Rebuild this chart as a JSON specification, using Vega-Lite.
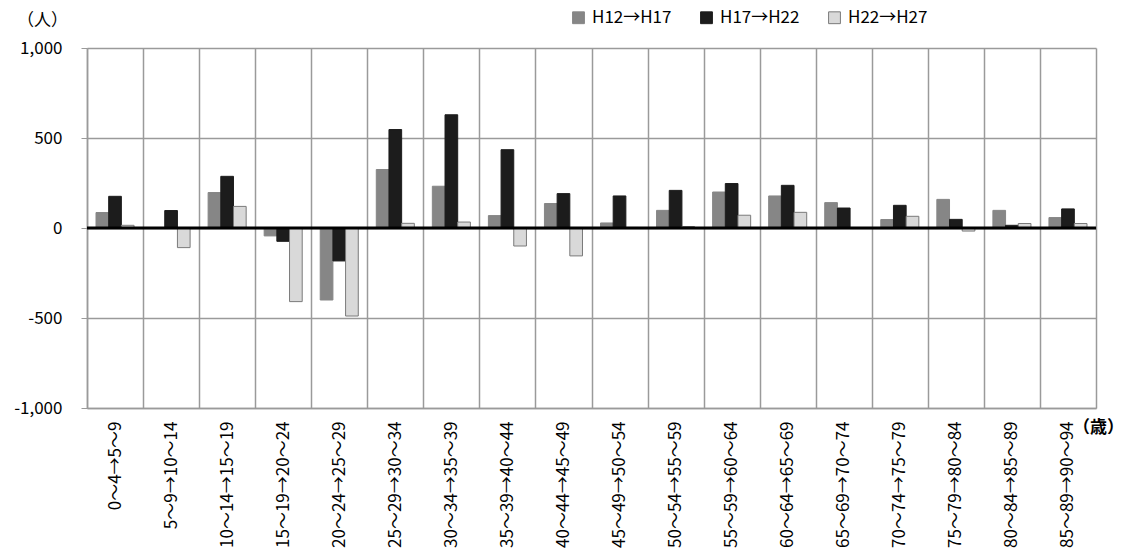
{
  "$schema": "https://vega.github.io/schema/vega-lite/v6.json",
  "autosize": {"type": "none"},
  "padding": {"left": 87, "top": 48, "right": 28, "bottom": 146},
  "width": 1009,
  "height": 360,
  "background": "white",
  "config": {
    "font": "Noto Sans CJK JP",
    "view": {"stroke": null},
    "axis": {"labelColor": "#000", "titleColor": "#000", "labelFontWeight": "normal"}
  },
  "data": {"values": [
    {"age": "0～4→5～9", "period": "H12→H17", "value": 86},
    {"age": "0～4→5～9", "period": "H17→H22", "value": 176},
    {"age": "0～4→5～9", "period": "H22→H27", "value": 15},
    {"age": "5～9→10～14", "period": "H12→H17", "value": 0},
    {"age": "5～9→10～14", "period": "H17→H22", "value": 97},
    {"age": "5～9→10～14", "period": "H22→H27", "value": -109},
    {"age": "10～14→15～19", "period": "H12→H17", "value": 197},
    {"age": "10～14→15～19", "period": "H17→H22", "value": 287},
    {"age": "10～14→15～19", "period": "H22→H27", "value": 120},
    {"age": "15～19→20～24", "period": "H12→H17", "value": -44},
    {"age": "15～19→20～24", "period": "H17→H22", "value": -74},
    {"age": "15～19→20～24", "period": "H22→H27", "value": -409},
    {"age": "20～24→25～29", "period": "H12→H17", "value": -400},
    {"age": "20～24→25～29", "period": "H17→H22", "value": -183},
    {"age": "20～24→25～29", "period": "H22→H27", "value": -489},
    {"age": "25～29→30～34", "period": "H12→H17", "value": 325},
    {"age": "25～29→30～34", "period": "H17→H22", "value": 547},
    {"age": "25～29→30～34", "period": "H22→H27", "value": 26},
    {"age": "30～34→35～39", "period": "H12→H17", "value": 232},
    {"age": "30～34→35～39", "period": "H17→H22", "value": 629},
    {"age": "30～34→35～39", "period": "H22→H27", "value": 33},
    {"age": "35～39→40～44", "period": "H12→H17", "value": 69},
    {"age": "35～39→40～44", "period": "H17→H22", "value": 435},
    {"age": "35～39→40～44", "period": "H22→H27", "value": -100},
    {"age": "40～44→45～49", "period": "H12→H17", "value": 136},
    {"age": "40～44→45～49", "period": "H17→H22", "value": 191},
    {"age": "40～44→45～49", "period": "H22→H27", "value": -155},
    {"age": "45～49→50～54", "period": "H12→H17", "value": 28},
    {"age": "45～49→50～54", "period": "H17→H22", "value": 178},
    {"age": "45～49→50～54", "period": "H22→H27", "value": 3},
    {"age": "50～54→55～59", "period": "H12→H17", "value": 98},
    {"age": "50～54→55～59", "period": "H17→H22", "value": 209},
    {"age": "50～54→55～59", "period": "H22→H27", "value": 8},
    {"age": "55～59→60～64", "period": "H12→H17", "value": 200},
    {"age": "55～59→60～64", "period": "H17→H22", "value": 247},
    {"age": "55～59→60～64", "period": "H22→H27", "value": 71},
    {"age": "60～64→65～69", "period": "H12→H17", "value": 178},
    {"age": "60～64→65～69", "period": "H17→H22", "value": 237},
    {"age": "60～64→65～69", "period": "H22→H27", "value": 87},
    {"age": "65～69→70～74", "period": "H12→H17", "value": 141},
    {"age": "65～69→70～74", "period": "H17→H22", "value": 111},
    {"age": "65～69→70～74", "period": "H22→H27", "value": 0},
    {"age": "70～74→75～79", "period": "H12→H17", "value": 47},
    {"age": "70～74→75～79", "period": "H17→H22", "value": 126},
    {"age": "70～74→75～79", "period": "H22→H27", "value": 65},
    {"age": "75～79→80～84", "period": "H12→H17", "value": 159},
    {"age": "75～79→80～84", "period": "H17→H22", "value": 48},
    {"age": "75～79→80～84", "period": "H22→H27", "value": -17},
    {"age": "80～84→85～89", "period": "H12→H17", "value": 98},
    {"age": "80～84→85～89", "period": "H17→H22", "value": 15},
    {"age": "80～84→85～89", "period": "H22→H27", "value": 25},
    {"age": "85～89→90～94", "period": "H12→H17", "value": 58},
    {"age": "85～89→90～94", "period": "H17→H22", "value": 106},
    {"age": "85～89→90～94", "period": "H22→H27", "value": 25}
  ]},
  "layer": [
    {
      "mark": {"type": "bar", "strokeWidth": 1},
      "encoding": {
        "x": {
          "field": "age", "type": "nominal", "sort": null,
          "scale": {"paddingInner": 0, "paddingOuter": 0},
          "axis": {
            "labelAngle": -90, "labelFontSize": 17, "labelPadding": 13,
            "tickBand": "extent", "grid": true, "gridColor": "#9a9a9a", "gridWidth": 1.5,
            "ticks": false, "domainColor": "#9a9a9a", "domainWidth": 1.5,
            "labelLimit": 300,
            "title": "（歳）", "titleAngle": 0, "titleFontSize": 17, "titleFontWeight": "bold",
            "titleX": 1011, "titleY": 19, "titleAlign": "center", "titleBaseline": "middle"
          }
        },
        "xOffset": {
          "field": "period", "type": "nominal", "sort": ["H12→H17", "H17→H22", "H22→H27"],
          "scale": {"paddingInner": 0, "paddingOuter": 0.71}
        },
        "y": {
          "field": "value", "type": "quantitative",
          "scale": {"domain": [-1000, 1000], "nice": false},
          "axis": {
            "values": [-1000, -500, 0, 500, 1000], "format": ",d",
            "labelExpr": "replace(datum.label, '−', '-')",
            "labelFontSize": 17, "labelPadding": 19,
            "grid": true, "gridColor": "#9a9a9a", "gridWidth": 1.5,
            "tickSize": 6, "tickColor": "#9a9a9a", "domainColor": "#9a9a9a", "domainWidth": 1.5,
            "title": "（人）", "titleAngle": 0, "titleFontSize": 17, "titleFontWeight": "normal",
            "titleX": -45, "titleY": -28, "titleAlign": "center", "titleBaseline": "middle"
          }
        },
        "color": {
          "field": "period", "type": "nominal",
          "scale": {"domain": ["H12→H17", "H17→H22", "H22→H27"], "range": ["#868686", "#1c1c1c", "#d9d9d9"]},
          "legend": {
            "title": null, "orient": "none", "direction": "horizontal",
            "legendX": 483, "legendY": -39,
            "symbolType": "square", "symbolSize": 140, "symbolStrokeWidth": 1,
            "labelFontSize": 17, "columnPadding": 26, "labelOffset": 5
          }
        },
        "stroke": {
          "field": "period", "type": "nominal",
          "scale": {"domain": ["H12→H17", "H17→H22", "H22→H27"], "range": ["#868686", "#1c1c1c", "#7a7a7a"]},
          "legend": {
            "title": null, "orient": "none", "direction": "horizontal",
            "legendX": 483, "legendY": -39,
            "symbolType": "square", "symbolSize": 140, "symbolStrokeWidth": 1,
            "labelFontSize": 17, "columnPadding": 26, "labelOffset": 5
          }
        }
      }
    },
    {
      "data": {"values": [{"zero": 0}]},
      "mark": {"type": "rule", "color": "#000", "strokeWidth": 3},
      "encoding": {"y": {"field": "zero", "type": "quantitative"}}
    }
  ]
}
